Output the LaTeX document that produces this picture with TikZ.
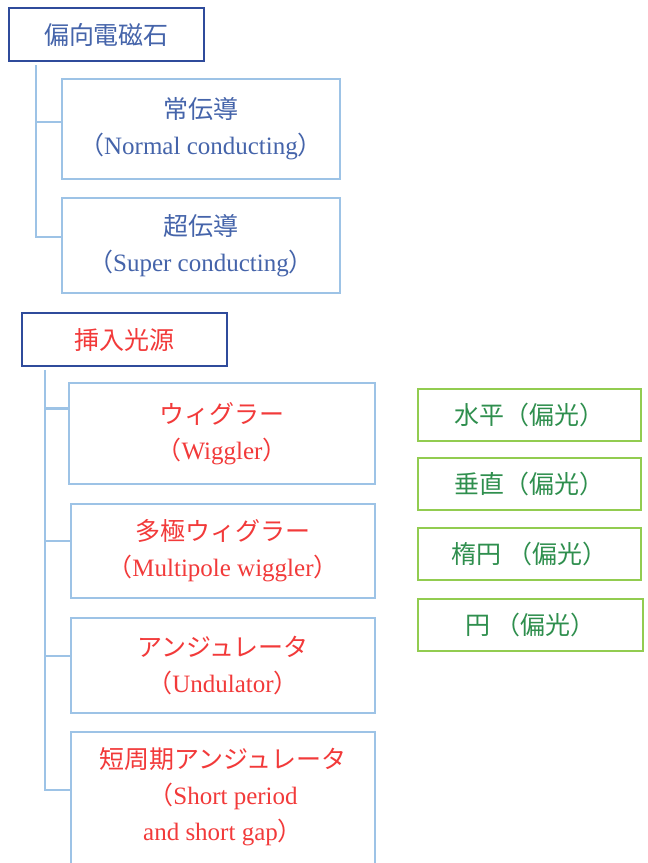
\documentclass[tikz,border=0pt]{standalone}
\usepackage{fontspec}
\setmainfont{Liberation Serif}
\newfontfamily\jp{Noto Sans CJK JP}
\definecolor{topblue}{HTML}{2F4B9B}
\definecolor{txtblue}{HTML}{4564AA}
\definecolor{lblue}{HTML}{9DC3E6}
\definecolor{txtred}{HTML}{F23A3A}
\definecolor{gborder}{HTML}{92CC50}
\definecolor{txtgreen}{HTML}{2F8F4E}
\begin{document}
\begin{tikzpicture}[x=1pt,y=-1pt,
  base/.style={rectangle,inner sep=0pt,outer sep=0pt,align=center,font=\fontsize{25}{36}\selectfont},
  topbox/.style={base,draw=topblue,line width=1.6pt},
  subbox/.style={base,draw=lblue,line width=1.6pt},
  polbox/.style={base,draw=gborder,line width=1.6pt,text=txtgreen},
  conn/.style={draw=lblue,line width=2.8pt}]
\useasboundingbox[fill=white] (0,0) rectangle (648,863);

% bending magnets
\node[topbox,text=txtblue,minimum width=195pt,minimum height=53pt] (dm) at (106.5,34.5) {{\jp 偏向電磁石}};
\node[subbox,text=txtblue,minimum width=278pt,minimum height=100pt] (nc) at (201,129) {{\jp 常伝導}\\{\jp （}Normal conducting{\jp ）}};
\node[subbox,text=txtblue,minimum width=278pt,minimum height=95pt] (sc) at (201,245.5) {{\jp 超伝導}\\{\jp （}Super conducting{\jp ）}};
\coordinate (t1) at (36,65);
\draw[conn] (t1) |- ([yshift=7pt]nc.west);
\draw[conn] (t1) |- ([yshift=8.5pt]sc.west);

% insertion devices
\node[topbox,text=txtred,minimum width=205pt,minimum height=53pt] (id) at (124.5,339.5) {{\jp 挿入光源}};
\node[subbox,text=txtred,minimum width=306pt,minimum height=101pt] (wg) at (222,433.5) {{\jp ウィグラー}\\{\jp （}Wiggler{\jp ）}};
\node[subbox,text=txtred,minimum width=304pt,minimum height=94pt] (mw) at (223,551) {{\jp 多極ウィグラー}\\{\jp （}Multipole wiggler{\jp ）}};
\node[subbox,text=txtred,minimum width=304pt,minimum height=95pt] (un) at (223,665.5) {{\jp アンジュレータ}\\{\jp （}Undulator{\jp ）}};
\node[subbox,minimum width=304pt,minimum height=148pt] (sp) at (223,806) {};
\node[base,text=txtred] (spt) at (223,797) {{\jp 短周期アンジュレータ}\\{\jp （}Short period\\and short gap{\jp ）}};
\coordinate (t2) at (45,370);
\draw[conn] (t2) |- ([yshift=25pt]wg.west);
\draw[conn] (t2) |- ([yshift=10pt]mw.west);
\draw[conn] (t2) |- ([yshift=9.5pt]un.west);
\draw[conn] (t2) |- (sp.west |- 0,790);

% polarisation
\node[polbox,minimum width=223pt,minimum height=52pt] (ph) at (529.5,415) {{\jp 水平（偏光）}};
\node[polbox,minimum width=223pt,minimum height=52pt] (pv) at (529.5,484) {{\jp 垂直（偏光）}};
\node[polbox,minimum width=223pt,minimum height=52pt] (pe) at (529.5,554) {{\jp 楕円 （偏光）}};
\node[polbox,minimum width=225pt,minimum height=52pt] (pc) at (530.5,625) {{\jp 円 （偏光）}};
\end{tikzpicture}
\end{document}
